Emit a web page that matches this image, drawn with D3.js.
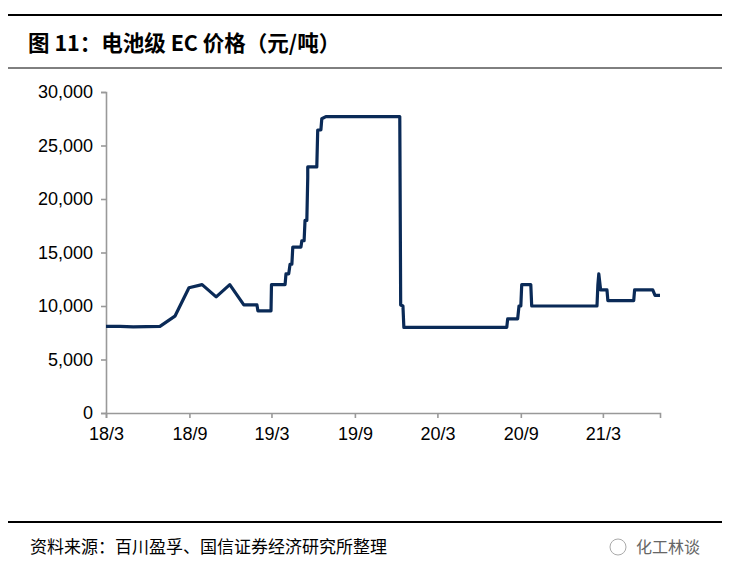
<!DOCTYPE html>
<html><head><meta charset="utf-8">
<script src="https://cdn.jsdelivr.net/npm/d3@7"></script>
<style>body{margin:0;background:#fff}</style></head>
<body><svg id="c" width="729" height="578"></svg>
<script>
const dates = ["2018-03-01","2018-04-01","2018-04-30","2018-06-28","2018-07-31","2018-08-31","2018-09-29","2018-10-30","2018-11-29","2018-12-30","2019-01-28","2019-01-30","2019-02-28","2019-03-01","2019-03-31","2019-04-02","2019-04-08","2019-04-11","2019-04-15","2019-04-17","2019-05-05","2019-05-07","2019-05-12","2019-05-14","2019-05-18","2019-05-20","2019-05-20","2019-06-09","2019-06-11","2019-06-18","2019-06-20","2019-06-29","2019-12-09","2019-12-11","2019-12-16","2019-12-18","2020-08-01","2020-08-03","2020-08-25","2020-08-28","2020-09-01","2020-09-03","2020-09-23","2020-09-25","2021-02-16","2021-02-18","2021-02-20","2021-02-24","2021-03-10","2021-03-12","2021-05-08","2021-05-10","2021-06-19","2021-06-24","2021-07-05"];
const prices = [8100,8100,8050,8100,9050,11700,12000,10850,12000,10100,10100,9550,9550,12000,12000,13000,13000,13900,13900,15500,15500,16100,16100,18000,18000,22000,23000,23000,26450,26450,27500,27700,27700,10100,10000,8000,8000,8800,8800,10000,10000,12000,12000,10000,10000,12000,13000,11500,11500,10500,10500,11500,11500,11000,11000];
const xTickDates = ["2018-03-01","2018-09-01","2019-03-01","2019-09-01","2020-03-01","2020-09-01","2021-03-01"];
const xTickLabels = ["18/3","18/9","19/3","19/9","20/3","20/9","21/3"];
const yTicks = [0,5000,10000,15000,20000,25000,30000];
const title = "图 11：电池级 EC 价格（元/吨）";
const source = "资料来源：百川盈孚、国信证券经济研究所整理";

const svg = d3.select("#c");
const p = d3.timeParse("%Y-%m-%d");
const x = d3.scaleTime().domain([p("2018-03-01"), p("2021-07-05")]).range([106, 660]);
const y = d3.scaleLinear().domain([0, 30000]).range([413, 92]);
const font = "Arial, 'Liberation Sans', 'Noto Sans CJK SC', sans-serif";

svg.append("line").attr("x1",8).attr("x2",722).attr("y1",15).attr("y2",15).attr("stroke","#000").attr("stroke-width",2);
svg.append("line").attr("x1",8).attr("x2",722).attr("y1",68).attr("y2",68).attr("stroke","#000").attr("stroke-width",1);
svg.append("text").attr("x",28).attr("y",51).text(title).attr("font-family","'Noto Sans CJK SC', sans-serif").attr("font-weight","bold").attr("font-size",21.5);
svg.append("line").attr("x1",8).attr("x2",722).attr("y1",522).attr("y2",522).attr("stroke","#000").attr("stroke-width",2);
svg.append("text").attr("x",30).attr("y",553).text(source).attr("font-family","'Noto Sans CJK SC', serif").attr("font-size",17);
svg.append("text").attr("x",636).attr("y",553).text("化工林谈").attr("font-family","'Noto Sans CJK SC', sans-serif").attr("font-size",16).attr("fill","#666");
svg.append("circle").attr("cx",618).attr("cy",547).attr("r",8).attr("fill","none").attr("stroke","#aaa");

const ya = svg.append("g").attr("transform","translate(106,0)")
  .call(d3.axisLeft(y).tickValues(yTicks).tickSize(5).tickPadding(8).tickFormat(d3.format(",")));
const xa = svg.append("g").attr("transform","translate(0,413)")
  .call(d3.axisBottom(x).tickValues(xTickDates.map(p)).tickSize(5).tickPadding(9).tickFormat((d,i)=>xTickLabels[i]));
[ya, xa].forEach(a=>{
  a.selectAll("path,line").attr("stroke","#999").attr("stroke-width",1.6);
  a.selectAll("text").attr("font-family",font).attr("font-size",18).attr("fill","#000");
});

svg.append("path").datum(dates.map((d,i)=>[p(d),prices[i]]))
  .attr("fill","none").attr("stroke","#0a2a57").attr("stroke-width",3.2).attr("stroke-linejoin","round")
  .attr("d", d3.line().x(d=>x(d[0])).y(d=>y(d[1])));
</script></body></html>
